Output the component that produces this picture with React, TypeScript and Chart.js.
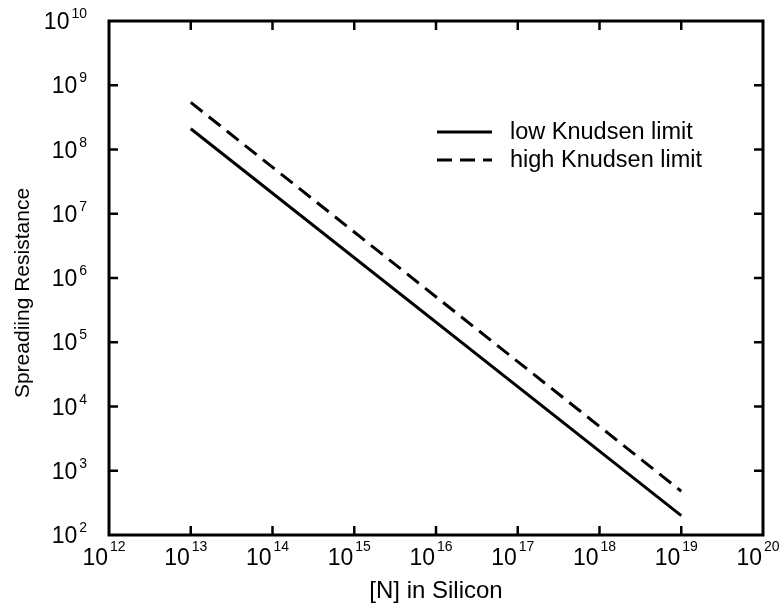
import React, { useEffect, useRef } from "react";
import { Chart, registerables } from "chart.js";

Chart.register(...registerables);

// ---- data ----
const xExponents = [12, 13, 14, 15, 16, 17, 18, 19, 20];
const yExponents = [2, 3, 4, 5, 6, 7, 8, 9, 10];
const nValues = [1e13, 1e19];
const lowKnudsen = [2.1e8, 2.0e2];
const highKnudsen = [5.4e8, 4.8e2];
const seriesLabels = ["low Knudsen limit", "high Knudsen limit"];
const xTitle = "[N] in Silicon";
const yTitle = "Spreadiing Resistance";

const FONT = '"Liberation Sans", Arial, Helvetica, sans-serif';

const decorPlugin = {
  id: "decor",
  afterDraw(chart: any) {
    const { ctx, chartArea: a, scales } = chart;
    const xs = scales.x;
    const ys = scales.y;
    ctx.save();
    ctx.strokeStyle = "#000";
    ctx.fillStyle = "#000";
    // frame
    ctx.lineWidth = 3;
    ctx.strokeRect(a.left, a.top, a.right - a.left, a.bottom - a.top);
    // inward ticks on all sides
    const T = 9;
    ctx.lineWidth = 2.5;
    ctx.beginPath();
    xExponents.forEach((e) => {
      const px = xs.getPixelForValue(Math.pow(10, e));
      if (px > a.left + 3 && px < a.right - 3) {
        ctx.moveTo(px, a.bottom);
        ctx.lineTo(px, a.bottom - T);
        ctx.moveTo(px, a.top);
        ctx.lineTo(px, a.top + T);
      }
    });
    yExponents.forEach((e) => {
      const py = ys.getPixelForValue(Math.pow(10, e));
      if (py > a.top + 3 && py < a.bottom - 3) {
        ctx.moveTo(a.left, py);
        ctx.lineTo(a.left + T, py);
        ctx.moveTo(a.right, py);
        ctx.lineTo(a.right - T, py);
      }
    });
    ctx.stroke();

    // x tick labels
    const baseFont = `23px ${FONT}`;
    const expFont = `14px ${FONT}`;
    xExponents.forEach((e) => {
      const px = xs.getPixelForValue(Math.pow(10, e));
      ctx.textBaseline = "alphabetic";
      ctx.font = baseFont;
      ctx.textAlign = "right";
      ctx.fillText("10", px - 1, a.bottom + 30);
      ctx.font = expFont;
      ctx.textAlign = "left";
      ctx.fillText(String(e), px + 1, a.bottom + 16);
    });
    // y tick labels
    const rightEdge = a.left - 22;
    yExponents.forEach((e) => {
      const py = ys.getPixelForValue(Math.pow(10, e));
      ctx.font = expFont;
      const ew = ctx.measureText(String(e)).width;
      ctx.font = baseFont;
      const bw = ctx.measureText("10").width;
      const x0 = rightEdge - ew - bw - 2;
      ctx.textAlign = "left";
      ctx.textBaseline = "alphabetic";
      ctx.fillText("10", x0, py + 8);
      ctx.font = expFont;
      ctx.fillText(String(e), x0 + bw + 2, py - 3);
    });

    // axis titles
    ctx.font = `24px ${FONT}`;
    ctx.textAlign = "center";
    ctx.textBaseline = "alphabetic";
    ctx.fillText(xTitle, (a.left + a.right) / 2, a.bottom + 63);
    ctx.save();
    ctx.translate(29, 293);
    ctx.rotate(-Math.PI / 2);
    ctx.font = `21px ${FONT}`;
    ctx.fillText(yTitle, 0, 0);
    ctx.restore();

    // legend
    const lx0 = a.left + 328;
    const lx1 = a.left + 383;
    const ly = [a.top + 111, a.top + 139];
    chart.data.datasets.forEach((ds: any, i: number) => {
      ctx.save();
      ctx.lineWidth = 3;
      ctx.strokeStyle = ds.borderColor;
      ctx.setLineDash(ds.borderDash || []);
      ctx.beginPath();
      ctx.moveTo(lx0, ly[i]);
      ctx.lineTo(lx1, ly[i]);
      ctx.stroke();
      ctx.restore();
      ctx.font = `23.5px ${FONT}`;
      ctx.textAlign = "left";
      ctx.textBaseline = "middle";
      ctx.fillText(ds.label, a.left + 401, ly[i] + 1);
    });
    ctx.restore();
  },
};

export default function App() {
  const canvasRef = useRef<HTMLCanvasElement | null>(null);

  useEffect(() => {
    const canvas = canvasRef.current;
    if (!canvas) return;
    const chart = new Chart(canvas, {
      type: "line",
      data: {
        datasets: [
          {
            label: seriesLabels[0],
            data: nValues.map((x, i) => ({ x, y: lowKnudsen[i] })),
            borderColor: "#000",
            borderWidth: 3,
            pointRadius: 0,
            fill: false,
          },
          {
            label: seriesLabels[1],
            data: nValues.map((x, i) => ({ x, y: highKnudsen[i] })),
            borderColor: "#000",
            borderWidth: 3,
            borderDash: [15, 8],
            pointRadius: 0,
            fill: false,
          },
        ],
      },
      options: {
        responsive: false,
        animation: false,
        devicePixelRatio: 1,
        layout: { padding: { left: 109, right: 18, top: 21, bottom: 75 } },
        plugins: {
          legend: { display: false },
          tooltip: { enabled: false },
        },
        scales: {
          x: {
            type: "logarithmic",
            min: 1e12,
            max: 1e20,
            ticks: { display: false },
            grid: { display: false },
            border: { display: false },
            afterFit: (s: any) => {
              s.height = 0;
            },
          },
          y: {
            type: "logarithmic",
            min: 1e2,
            max: 1e10,
            ticks: { display: false },
            grid: { display: false },
            border: { display: false },
            afterFit: (s: any) => {
              s.width = 0;
            },
          },
        },
      } as any,
      plugins: [decorPlugin],
    });
    return () => chart.destroy();
  }, []);

  return (
    <div style={{ position: "fixed", left: 0, top: 0, width: 781, height: 610, background: "#fff" }}>
      <canvas ref={canvasRef} width={781} height={610} />
    </div>
  );
}
